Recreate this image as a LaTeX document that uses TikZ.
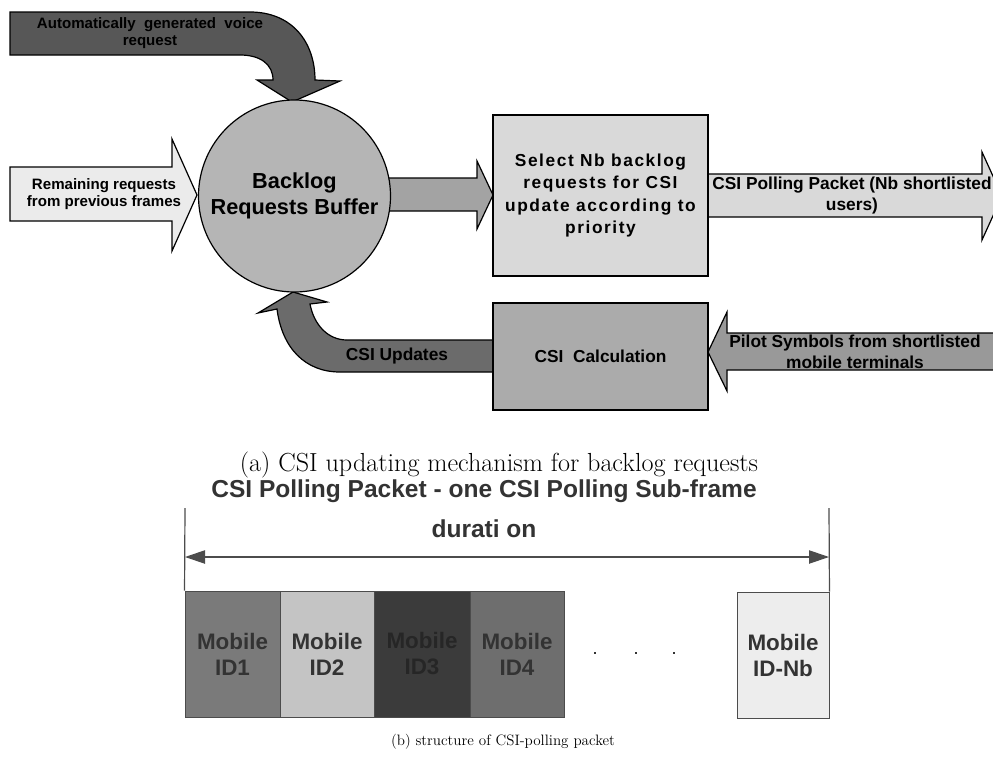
\documentclass[tikz,border=0pt]{standalone}
\usepackage{fontspec}
\newfontfamily\diag{Liberation Sans}
\newfontfamily\diagsp{Liberation Sans}[LetterSpace=9]
\usetikzlibrary{arrows.meta}

\definecolor{fDark}{gray}{0.34}
\definecolor{fBuffer}{gray}{0.71}
\definecolor{fPale}{gray}{0.92}
\definecolor{fMid}{gray}{0.64}
\definecolor{fSelect}{gray}{0.85}
\definecolor{fCalc}{gray}{0.67}
\definecolor{fPilot}{gray}{0.60}
\definecolor{fUpd}{gray}{0.42}
\definecolor{ink}{gray}{0.20}
\definecolor{rim}{gray}{0.30}
\definecolor{cID1}{gray}{0.48}
\definecolor{cID2}{gray}{0.77}
\definecolor{cID3}{gray}{0.23}
\definecolor{cID4}{gray}{0.43}
\definecolor{cIDN}{gray}{0.93}

\begin{document}
\begin{tikzpicture}[x=0.75pt,y=-0.75pt,
  outl/.style={draw=black, line width=0.9pt, line join=miter},
  lbl/.style={font=\diag\bfseries\fontsize{13}{15.75}\selectfont, align=center, inner sep=0pt},
  smalllbl/.style={font=\diag\bfseries\fontsize{11.3}{12.9}\selectfont, align=center, inner sep=0pt},
  procbox/.style={outl, minimum width=161.25pt, inner sep=0pt, align=center},
  idbox/.style={draw=rim, line width=0.7pt, minimum height=94.5pt, inner sep=0pt,
    align=center, text=ink, font=\diag\bfseries\fontsize{16.8}{19.5}\selectfont},
  dimline/.style={draw=rim, line width=0.9pt},
  pktdot/.style={fill=ink, minimum size=1.6pt, inner sep=0pt, rectangle}
]
\useasboundingbox (0,0) rectangle (993,764);
\clip (0,0) rectangle (993,764);

% ---------------- (a) CSI updating mechanism ----------------
% incoming voice request (curved block arrow from the top)
\draw[outl, fill=fDark] (10,12) -- (250,12)
  .. controls (292,12) and (315,42) .. (315,80) -- (340,81) -- (292,102)
  -- (257,80) -- (273,80) .. controls (273,64) and (260,55) .. (240,55)
  -- (10,55) -- cycle;
\node[smalllbl] (voice) at (150,33.5) {Automatically\ \ generated\ \ voice\\request};

% remaining requests (block arrow from the left)
\draw[outl, fill=fPale] (10,167) -- (172,167) -- (172,139) -- (197,195)
  -- (172,251) -- (172,221) -- (10,221) -- cycle;
\node[smalllbl] (remain) at (104,194.5) {Remaining requests\\from previous frames};

% buffer -> selection
\draw[outl, fill=fMid] (380,178) -- (477,178) -- (477,161) -- (493,195)
  -- (477,229) -- (477,211) -- (380,211) -- cycle;

% selection -> polling packet (runs off the right edge)
\draw[outl, fill=fSelect] (700,174) -- (982,174) -- (982,152) -- (1002,196)
  -- (982,240) -- (982,217) -- (700,217) -- cycle;
\node[lbl] (poll) at (852,196) {CSI Polling Packet (Nb shortlisted\\users)};

% pilot symbols (block arrow from the right edge)
\draw[outl, fill=fPilot] (1000,333) -- (727,333) -- (727,312) -- (708,352)
  -- (727,391) -- (727,370) -- (1000,370) -- cycle;
\node[lbl] (pilot) at (855,351.5) {Pilot Symbols from shortlisted\\mobile terminals};

% CSI updates (curved block arrow back to the buffer)
\draw[outl, fill=fUpd] (500,340) -- (347,340)
  .. controls (328,340) and (314,325) .. (310,304) -- (327,302) -- (293,292)
  -- (258,313) -- (277,309) .. controls (282,348) and (305,372) .. (340,372)
  -- (500,372) -- cycle;
\node[lbl] (upd) at (397,356) {CSI Updates};

% buffer
\node[circle, outl, fill=fBuffer, minimum size=144pt, inner sep=0pt, align=center,
  font=\diag\bfseries\fontsize{16.3}{19.5}\selectfont] (buf) at (294.5,196)
  {Backlog\\Requests Buffer};

% processing boxes
\node[procbox, fill=fSelect, minimum height=120.75pt,
  font=\diagsp\bfseries\fontsize{13}{16.7}\selectfont] (sel) at (600.5,195.5)
  {Select Nb backlog\\requests for CSI\\update according to\\priority};
\node[procbox, fill=fCalc, minimum height=80.25pt,
  font=\diag\bfseries\fontsize{13}{15.75}\selectfont] (calc) at (600.5,356.5)
  {CSI\ \ Calculation};

\node[inner sep=0pt, font=\fontsize{19.6}{22}\selectfont] (capa) at (499,465)
  {(a) CSI updating mechanism for backlog requests};

% ---------------- (b) structure of CSI-polling packet ----------------
\node[inner sep=0pt, text=ink, align=center,
  font=\diag\bfseries\fontsize{18.4}{30}\selectfont] (ttl) at (484,509)
  {CSI Polling Packet - one CSI Polling Sub-frame\\durati on};

\node[idbox, fill=cID1, minimum width=71.25pt] (m1) at (232.5,654) {Mobile\\ID1};
\node[idbox, fill=cID2, minimum width=70.5pt]  (m2) at (327,654)   {Mobile\\ID2};
\node[idbox, fill=cID3, minimum width=72pt, text=black!85] (m3) at (422,654) {Mobile\\ID3};
\node[idbox, fill=cID4, minimum width=70.5pt]  (m4) at (517,654)   {Mobile\\ID4};
\node[idbox, fill=cIDN, minimum width=69pt]    (mn) at (783,655)   {Mobile\\ID-Nb};

\node[pktdot] (d1) at (595,653) {};
\node[pktdot] (d2) at (636,653) {};
\node[pktdot] (d3) at (674,653) {};

\coordinate (lt) at (185,508);
\coordinate (rt) at (829,508);
\coordinate (al) at (185,557);
\coordinate (ar) at (829,557);
\draw[dimline] (lt) -- (m1.north west);
\draw[dimline] (rt) -- (mn.north east);
\draw[dimline, {Triangle[length=15pt,width=10pt]}-{Triangle[length=15pt,width=10pt]}] (al) -- (ar);

\node[inner sep=0pt, font=\fontsize{11.3}{13}\selectfont] (capb) at (503,742)
  {(b) structure of CSI-polling packet};
\end{tikzpicture}
\end{document}
